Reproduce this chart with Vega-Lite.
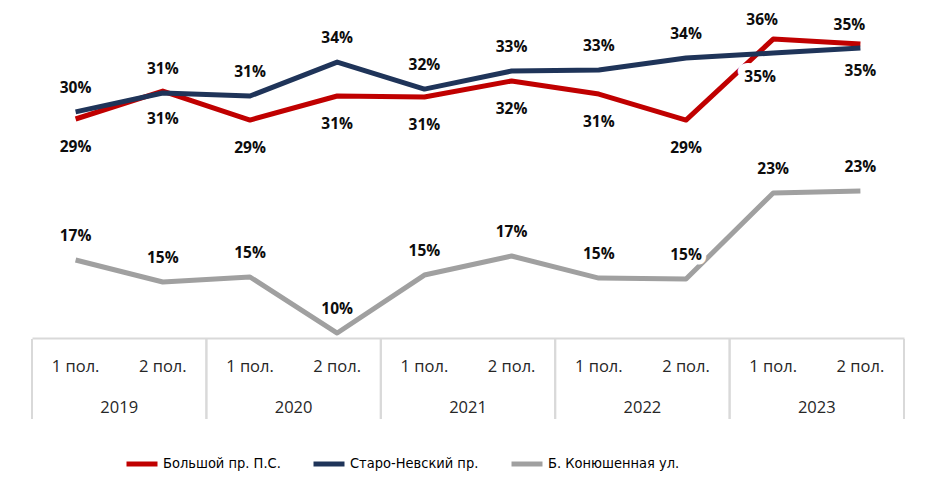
{
  "$schema": "https://vega.github.io/schema/vega-lite/v6.json",
  "padding": {"left": 31, "top": 5, "right": 5, "bottom": 5},
  "background": "white",
  "config": {"view": {"stroke": null}, "font": "Open Sans", "concat": {"spacing": 0}},
  "datasets": {
    "shares": [
      {"period": "2019 1 пол.", "year": "2019", "half": "1 пол.", "series": "Большой пр. П.С.", "value": 0.2893},
      {"period": "2019 2 пол.", "year": "2019", "half": "2 пол.", "series": "Большой пр. П.С.", "value": 0.3135},
      {"period": "2020 1 пол.", "year": "2020", "half": "1 пол.", "series": "Большой пр. П.С.", "value": 0.2884},
      {"period": "2020 2 пол.", "year": "2020", "half": "2 пол.", "series": "Большой пр. П.С.", "value": 0.3092},
      {"period": "2021 1 пол.", "year": "2021", "half": "1 пол.", "series": "Большой пр. П.С.", "value": 0.3083},
      {"period": "2021 2 пол.", "year": "2021", "half": "2 пол.", "series": "Большой пр. П.С.", "value": 0.3222},
      {"period": "2022 1 пол.", "year": "2022", "half": "1 пол.", "series": "Большой пр. П.С.", "value": 0.3109},
      {"period": "2022 2 пол.", "year": "2022", "half": "2 пол.", "series": "Большой пр. П.С.", "value": 0.2884},
      {"period": "2023 1 пол.", "year": "2023", "half": "1 пол.", "series": "Большой пр. П.С.", "value": 0.3585},
      {"period": "2023 2 пол.", "year": "2023", "half": "2 пол.", "series": "Большой пр. П.С.", "value": 0.3542},
      {"period": "2019 1 пол.", "year": "2019", "half": "1 пол.", "series": "Старо-Невский пр.", "value": 0.2955},
      {"period": "2019 2 пол.", "year": "2019", "half": "2 пол.", "series": "Старо-Невский пр.", "value": 0.3118},
      {"period": "2020 1 пол.", "year": "2020", "half": "1 пол.", "series": "Старо-Невский пр.", "value": 0.3092},
      {"period": "2020 2 пол.", "year": "2020", "half": "2 пол.", "series": "Старо-Невский пр.", "value": 0.3386},
      {"period": "2021 1 пол.", "year": "2021", "half": "1 пол.", "series": "Старо-Невский пр.", "value": 0.3152},
      {"period": "2021 2 пол.", "year": "2021", "half": "2 пол.", "series": "Старо-Невский пр.", "value": 0.3308},
      {"period": "2022 1 пол.", "year": "2022", "half": "1 пол.", "series": "Старо-Невский пр.", "value": 0.3317},
      {"period": "2022 2 пол.", "year": "2022", "half": "2 пол.", "series": "Старо-Невский пр.", "value": 0.3421},
      {"period": "2023 1 пол.", "year": "2023", "half": "1 пол.", "series": "Старо-Невский пр.", "value": 0.3464},
      {"period": "2023 2 пол.", "year": "2023", "half": "2 пол.", "series": "Старо-Невский пр.", "value": 0.3508},
      {"period": "2019 1 пол.", "year": "2019", "half": "1 пол.", "series": "Б. Конюшенная ул.", "value": 0.1672},
      {"period": "2019 2 пол.", "year": "2019", "half": "2 пол.", "series": "Б. Конюшенная ул.", "value": 0.1482},
      {"period": "2020 1 пол.", "year": "2020", "half": "1 пол.", "series": "Б. Конюшенная ул.", "value": 0.1525},
      {"period": "2020 2 пол.", "year": "2020", "half": "2 пол.", "series": "Б. Конюшенная ул.", "value": 0.1040},
      {"period": "2021 1 пол.", "year": "2021", "half": "1 пол.", "series": "Б. Конюшенная ул.", "value": 0.1542},
      {"period": "2021 2 пол.", "year": "2021", "half": "2 пол.", "series": "Б. Конюшенная ул.", "value": 0.1707},
      {"period": "2022 1 пол.", "year": "2022", "half": "1 пол.", "series": "Б. Конюшенная ул.", "value": 0.1516},
      {"period": "2022 2 пол.", "year": "2022", "half": "2 пол.", "series": "Б. Конюшенная ул.", "value": 0.1508},
      {"period": "2023 1 пол.", "year": "2023", "half": "1 пол.", "series": "Б. Конюшенная ул.", "value": 0.2252},
      {"period": "2023 2 пол.", "year": "2023", "half": "2 пол.", "series": "Б. Конюшенная ул.", "value": 0.2269}
    ],
    "years": [
      {"year": "2019"}, {"year": "2020"}, {"year": "2021"}, {"year": "2022"}, {"year": "2023"}
    ]
  },
  "vconcat": [
    {
      "width": 872,
      "height": 333,
      "data": {"name": "shares"},
      "encoding": {
        "x": {"field": "period", "type": "ordinal", "sort": null, "scale": {"type": "point", "padding": 0.5},
              "axis": {"domain": true, "domainColor": "#d9d9d9", "domainWidth": 2, "labels": false, "ticks": false, "title": null, "grid": false}},
        "y": {"field": "value", "type": "quantitative", "scale": {"domain": [0.0997, 0.388], "zero": false, "nice": false}, "axis": null}
      },
      "layer": [
        {
          "mark": {"type": "line", "strokeWidth": 5, "strokeJoin": "round"},
          "encoding": {
            "color": {
              "field": "series", "type": "nominal",
              "scale": {"domain": ["Большой пр. П.С.", "Старо-Невский пр.", "Б. Конюшенная ул."], "range": ["#C00000", "#1F3459", "#A0A0A0"]},
              "legend": {
                "orient": "none", "legendX": 92, "legendY": 441, "direction": "horizontal", "title": null,
                "symbolType": "stroke", "symbolSize": 961, "symbolStrokeWidth": 5,
                "labelFont": "DejaVu Sans Condensed", "labelFontSize": 14.5, "labelColor": "#000000",
                "columnPadding": 22, "labelOffset": 3, "padding": 0
              }
            }
          }
        },
        {
          "transform": [{"filter": "datum.series === 'Б. Конюшенная ул.'"}],
          "encoding": {"text": {"field": "value", "type": "quantitative", "format": ".0%"}},
          "layer": [
            {"mark": {"type": "text", "fontSize": 15.5, "fontWeight": "bold", "fill": "white", "stroke": "white", "strokeWidth": 9, "strokeJoin": "round", "dy": -24}},
            {"mark": {"type": "text", "fontSize": 15.5, "fontWeight": "bold", "color": "#0d0d0d", "dy": -24}}
          ]
        },
        {
          "transform": [{"filter": "datum.series === 'Старо-Невский пр.' && datum.year !== '2023'"}],
          "encoding": {"text": {"field": "value", "type": "quantitative", "format": ".0%"}},
          "layer": [
            {"mark": {"type": "text", "fontSize": 15.5, "fontWeight": "bold", "fill": "white", "stroke": "white", "strokeWidth": 9, "strokeJoin": "round", "dy": -24}},
            {"mark": {"type": "text", "fontSize": 15.5, "fontWeight": "bold", "color": "#0d0d0d", "dy": -24}}
          ]
        },
        {
          "transform": [{"filter": "datum.series === 'Старо-Невский пр.' && datum.period === '2023 1 пол.'"}],
          "encoding": {"text": {"field": "value", "type": "quantitative", "format": ".0%"}},
          "layer": [
            {"mark": {"type": "text", "fontSize": 15.5, "fontWeight": "bold", "fill": "white", "stroke": "white", "strokeWidth": 14, "strokeJoin": "round", "dy": 24, "dx": -13}},
            {"mark": {"type": "text", "fontSize": 15.5, "fontWeight": "bold", "color": "#0d0d0d", "dy": 24, "dx": -13}}
          ]
        },
        {
          "transform": [{"filter": "datum.series === 'Старо-Невский пр.' && datum.period === '2023 2 пол.'"}],
          "encoding": {"text": {"field": "value", "type": "quantitative", "format": ".0%"}},
          "layer": [
            {"mark": {"type": "text", "fontSize": 15.5, "fontWeight": "bold", "color": "#0d0d0d", "dy": 23}}
          ]
        },
        {
          "transform": [{"filter": "datum.series === 'Большой пр. П.С.' && datum.year !== '2023'"}],
          "encoding": {"text": {"field": "value", "type": "quantitative", "format": ".0%"}},
          "layer": [
            {"mark": {"type": "text", "fontSize": 15.5, "fontWeight": "bold", "color": "#0d0d0d", "dy": 28}}
          ]
        },
        {
          "transform": [{"filter": "datum.series === 'Большой пр. П.С.' && datum.year === '2023'"}],
          "encoding": {"text": {"field": "value", "type": "quantitative", "format": ".0%"}},
          "layer": [
            {"mark": {"type": "text", "fontSize": 15.5, "fontWeight": "bold", "color": "#0d0d0d", "dy": -19, "dx": -11}}
          ]
        }
      ]
    },
    {
      "width": 872,
      "height": 80,
      "layer": [
        {
          "data": {"name": "years"},
          "mark": {"type": "rule", "color": "#d9d9d9", "strokeWidth": 2},
          "encoding": {
            "x": {"field": "year", "type": "ordinal", "scale": {"type": "band", "paddingInner": 0, "paddingOuter": 0}, "bandPosition": 0, "axis": null}
          }
        },
        {
          "data": {"name": "years"},
          "mark": {"type": "rule", "color": "#d9d9d9", "strokeWidth": 2},
          "encoding": {
            "x": {"field": "year", "type": "ordinal", "scale": {"type": "band", "paddingInner": 0, "paddingOuter": 0}, "bandPosition": 1, "axis": null}
          }
        },
        {
          "data": {"name": "shares"},
          "transform": [{"filter": "datum.series === 'Большой пр. П.С.'"}],
          "mark": {"type": "text", "fontSize": 16.5, "color": "#262626", "dy": 8},
          "encoding": {
            "x": {"field": "period", "type": "ordinal", "sort": null, "scale": {"type": "point", "padding": 0.5}, "axis": null},
            "y": {"datum": "полугодие", "type": "nominal", "scale": {"domain": ["полугодие", "год"]}, "axis": null},
            "text": {"field": "half", "type": "nominal"}
          }
        },
        {
          "data": {"name": "years"},
          "mark": {"type": "text", "fontSize": 16.5, "color": "#262626", "dy": 9},
          "encoding": {
            "x": {"field": "year", "type": "ordinal", "scale": {"type": "point", "padding": 0.5}, "axis": null},
            "y": {"datum": "год", "type": "nominal", "scale": {"domain": ["полугодие", "год"]}, "axis": null},
            "text": {"field": "year", "type": "nominal"}
          }
        }
      ],
      "resolve": {"scale": {"x": "independent"}}
    }
  ]
}
